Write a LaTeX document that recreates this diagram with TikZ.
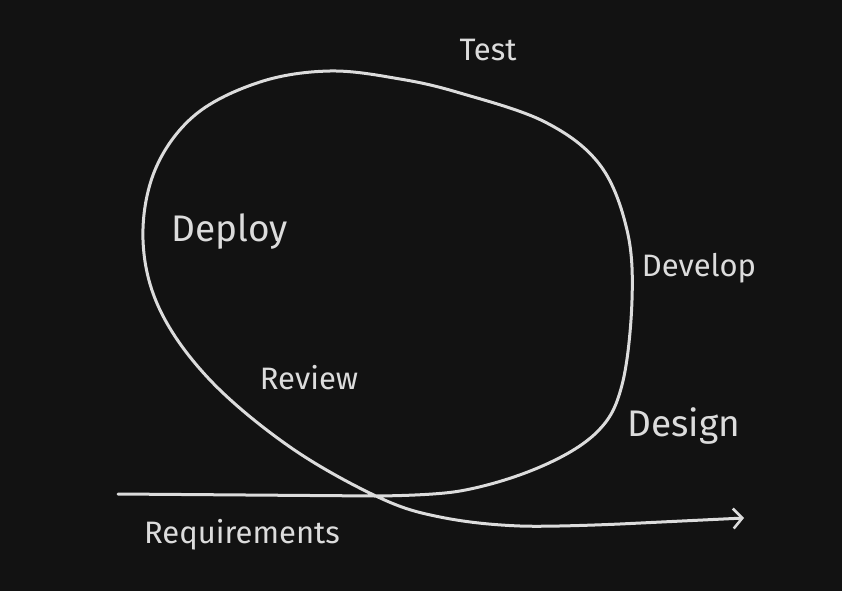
\documentclass[tikz,border=0pt]{standalone}
\usepackage{fontspec}
\setmainfont{Fira Sans}
\usepackage{xcolor}
\usetikzlibrary{arrows.meta}
\definecolor{bg}{HTML}{121212}
\definecolor{ink}{HTML}{DCDCDC}

\begin{document}
\begin{tikzpicture}
	[x=1pt,y=-1pt,every node/.style={text=ink,inner sep=0pt,font=\fontsize{31}{34}\selectfont}]
	\tikzstyle{loop} = [line width=3pt, draw=ink, line cap=round, line join=round];
	\tikzstyle{big} = [font=\fontsize{37}{40}\selectfont];
	
	\fill[bg] (0,0) rectangle (842,591);
	\useasboundingbox (0,0) rectangle (842,591);
	
	\node (test) at (488,50) {Test};  
	\node[big] (deploy) at (230,232) {Deploy};  
	\node (develop) at (699,268) {Develop};
	\node (review) at (309,378) {Review};
	\node[big] (design) at (684,426) {Design};
	\node (req) at (242,535) {Requirements};
	
	\coordinate (start) at (118,494);
	\coordinate (stop) at (744,518);
	
	\draw[loop,-{Straight Barb[length=9pt,width=20pt,line width=2.6pt]}] (start) -- (375,496)
		plot[smooth,tension=0.6] coordinates {(375,496) (460,491) (540,467) (597,432) (622,385) (632,300) (627,230) (600,165) (545,122) (460,93) (400,79) (330,71) (260,82) (195,115) (155,170) (143,240) (160,310) (210,380) (290,447) (378,497) (440,517) (520,526) (620,524)}
		-- (stop);
\end{tikzpicture}
\end{document}
